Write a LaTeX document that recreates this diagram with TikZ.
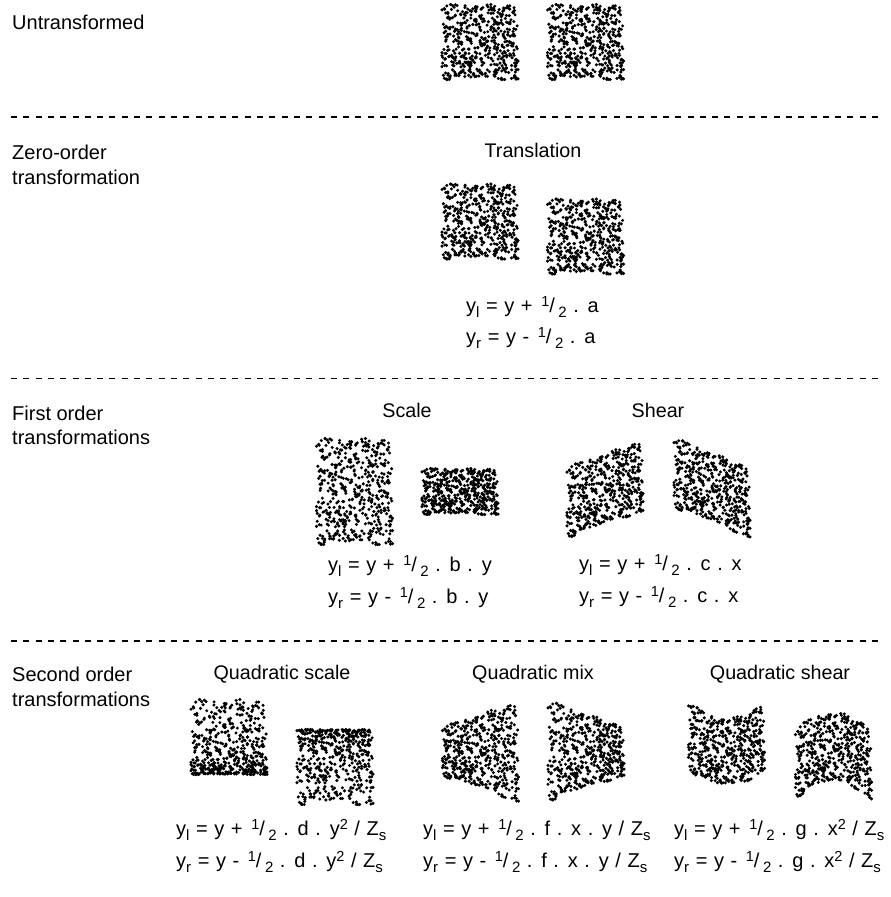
\documentclass[tikz,border=0pt]{standalone}
\usepackage{fontspec}
\setmainfont{Liberation Sans}
\newfontfamily\formfont[LetterSpace=5.2]{Liberation Sans}
\newcommand\lowtxt[1]{\raisebox{-0.27em}{\fontsize{15}{15}\selectfont #1}}
\newcommand\hightxt[1]{\raisebox{0.3em}{\fontsize{14.5}{14.5}\selectfont #1}}
\newcommand\half{\kern2pt\hightxt{1}/\kern3.5pt\lowtxt{2}}
\newcommand\dotpatch[8]{%
  \foreach \uu/\vv in \dotlist {%
    \pgfmathsetmacro\px{#1+#2*\uu}%
    \pgfmathsetmacro\py{#3+#4*\vv+#5*\uu+#6*\uu*\vv+#7*\vv*\vv+#8*\uu*\uu}%
    \fill[black] (\px,\py) circle[radius=1.7pt];
  }}
\begin{document}
\begin{tikzpicture}[x=1pt,y=-1pt,
  side/.style={anchor=base west,inner sep=0pt,font=\fontsize{20}{24}\selectfont},
  title/.style={anchor=base,inner sep=0pt,font=\fontsize{19.7}{24}\selectfont},
  formula/.style={anchor=base west,inner sep=0pt,font=\formfont\fontsize{20}{24}\selectfont},
  sep/.style={black,line width=1.1pt,dash pattern=on 6pt off 6.3pt}]
\fill[white] (0,0) rectangle (891,897);
\useasboundingbox (0,0) rectangle (891,897);
% one random dot field, used by every patch: small clumps spread evenly
\pgfmathsetseed{4711}
\gdef\dotlist{0/0}
\foreach \col in {0,...,12}{%
  \foreach \row in {0,...,12}{%
    \pgfmathsetmacro\ca{(\col+rnd)*2/13-1}%
    \pgfmathsetmacro\skipa{rnd}%
    \pgfmathsetmacro\skipb{rnd}%
    \pgfmathsetmacro\cb{(\row+rnd)*2/13-1}%
    \xdef\pa{\ca}\xdef\pb{\cb}%
    \xdef\dotlist{\dotlist,\ca/\cb}%
    \pgfmathsetmacro\extra{int(rnd*3)}%
    \foreach \k in {0,...,\extra}{%
      \pgfmathsetmacro\dx{0.1*(2*rnd-1)}%
      \pgfmathsetmacro\skipc{rnd}%
      \pgfmathsetmacro\dy{0.1*(2*rnd-1)}%
      \pgfmathsetmacro\aa{max(-1,min(1,\pa+\dx))}%
      \pgfmathsetmacro\bb{max(-1,min(1,\pb+\dy))}%
      \xdef\pa{\aa}\xdef\pb{\bb}%
      \xdef\dotlist{\dotlist,\aa/\bb}%
    }%
  }%
}
% separators
\foreach \n/\yy in {a/117,b/378.5,c/641}{
  \coordinate (\n l) at (11,\yy);
  \coordinate (\n r) at (884,\yy);
  \draw[sep] (\n l) -- (\n r);
}
% left labels
\node[side] (untr) at (12,29) {Untransformed};
\node[side] (zero1) at (12,159) {Zero-order};
\node[side] (zero2) at (12,184) {transformation};
\node[side] (first1) at (12,420) {First order};
\node[side] (first2) at (12,444) {transformations};
\node[side] (second1) at (12,681) {Second order};
\node[side] (second2) at (12,706) {transformations};
% titles
\node[title] (ttrans) at (533,157) {Translation};
\node[title] (tscale) at (407,417) {Scale};
\node[title] (tshear) at (658,417) {Shear};
\node[title] (tqscale) at (282,679) {Quadratic scale};
\node[title] (tqmix) at (533,679) {Quadratic mix};
\node[title] (tqshear) at (780,679) {Quadratic shear};
% untransformed
\dotpatch{480}{38}{42}{37.5}{0}{0}{0}{0}
\dotpatch{585.5}{38}{42}{37.5}{0}{0}{0}{0}
% translation
\dotpatch{480}{38}{221.5}{37.5}{0}{0}{0}{0}
\dotpatch{585.5}{38}{236.5}{37.5}{0}{0}{0}{0}
% scale
\dotpatch{354.5}{38}{491.5}{53}{0}{0}{0}{0}
\dotpatch{460}{38}{491.5}{23}{0}{0}{0}{0}
% shear
\dotpatch{605}{38}{489}{35.5}{-13.5}{0}{0}{0}
\dotpatch{712}{38}{487.5}{35}{15}{0}{0}{0}
% quadratic scale
\dotpatch{229}{38}{753}{37.5}{0}{0}{-16}{0}
\dotpatch{335}{38}{751}{37.5}{0}{0}{16}{0}
% quadratic mix
\dotpatch{480.5}{38}{751.5}{37.5}{0}{13}{0}{0}
\dotpatch{586}{38}{751}{37.5}{0}{-13}{0}{0}
% quadratic shear
\dotpatch{726.5}{38}{752}{34}{0}{0}{0}{-17}
\dotpatch{833.5}{38}{747.5}{35}{0}{0}{0}{17}
% formulas
\node[formula] (f1a) at (466,312) {y\lowtxt{l} = y + \half{} . a};
\node[formula] (f1b) at (466,343) {y\lowtxt{r} = y - \half{} . a};
\node[formula] (f2a) at (328,571) {y\lowtxt{l} = y + \half{} . b . y};
\node[formula] (f2b) at (328,603) {y\lowtxt{r} = y - \half{} . b . y};
\node[formula] (f3a) at (579,570) {y\lowtxt{l} = y + \half{} . c . x};
\node[formula] (f3b) at (579,602) {y\lowtxt{r} = y - \half{} . c . x};
\node[formula] (f4a) at (176,835) {y\lowtxt{l} = y + \half{} . d . y\hightxt{2} / Z\lowtxt{s}};
\node[formula] (f4b) at (176,867) {y\lowtxt{r} = y - \half{} . d . y\hightxt{2} / Z\lowtxt{s}};
\node[formula] (f5a) at (423,835) {y\lowtxt{l} = y + \half{} . f . x . y / Z\lowtxt{s}};
\node[formula] (f5b) at (423,867) {y\lowtxt{r} = y - \half{} . f . x . y / Z\lowtxt{s}};
\node[formula] (f6a) at (674,835) {y\lowtxt{l} = y + \half{} . g . x\hightxt{2} / Z\lowtxt{s}};
\node[formula] (f6b) at (674,867) {y\lowtxt{r} = y - \half{} . g . x\hightxt{2} / Z\lowtxt{s}};
\end{tikzpicture}
\end{document}
